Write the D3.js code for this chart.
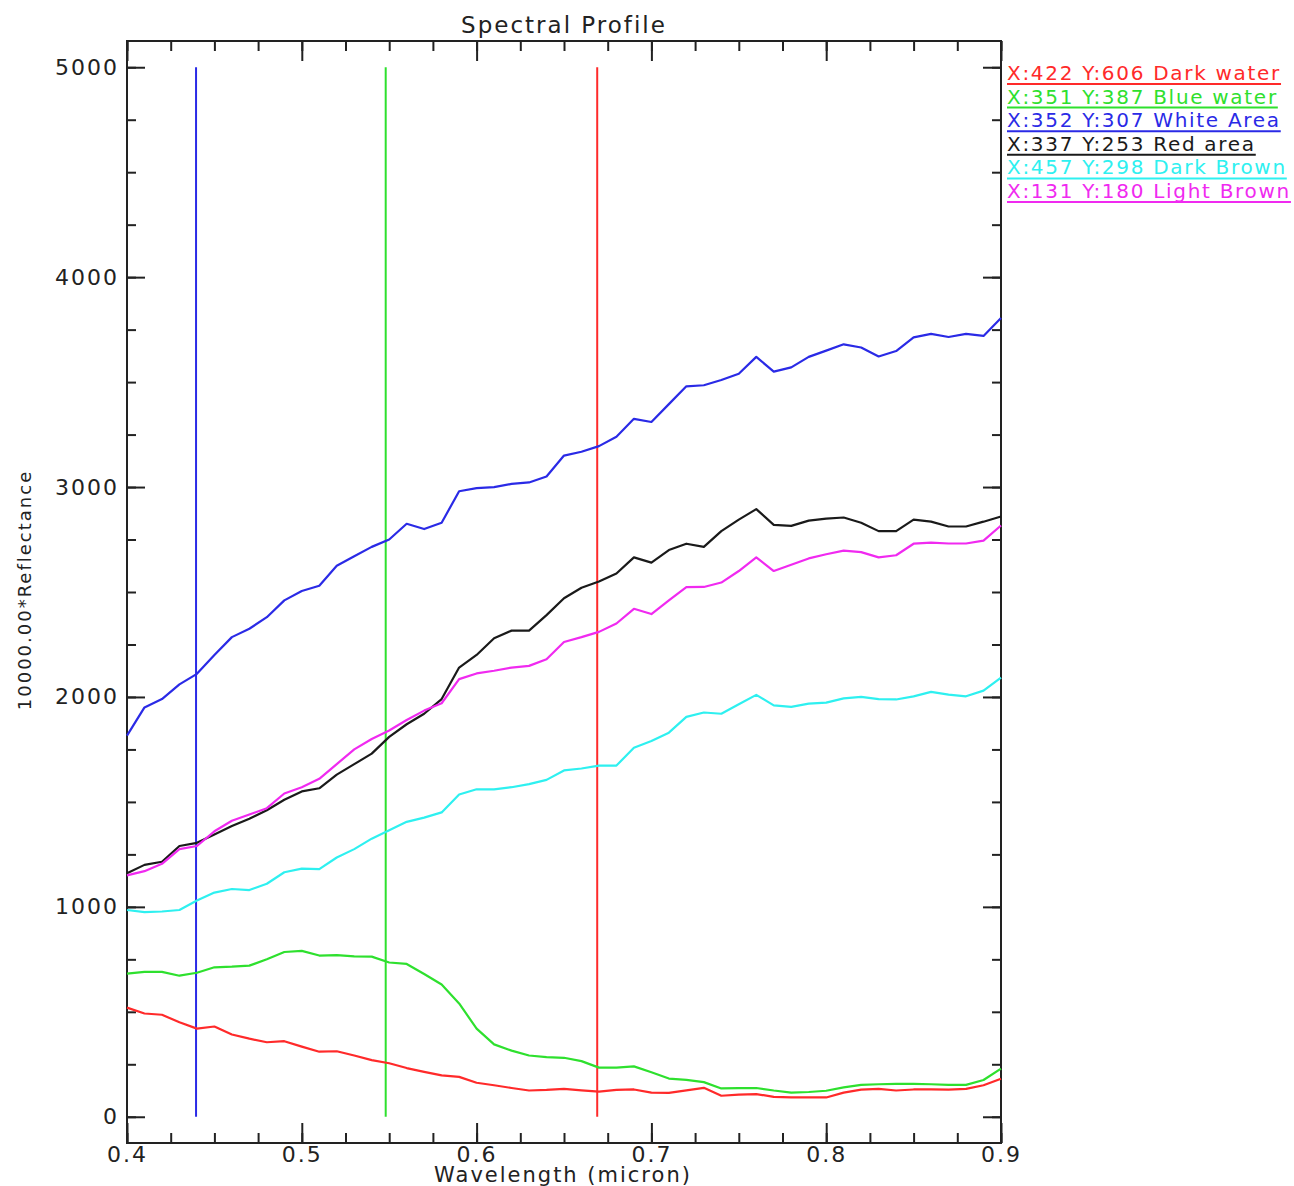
<!DOCTYPE html>
<html>
<head>
<meta charset="utf-8">
<script src="https://cdn.jsdelivr.net/npm/d3@7"></script>
<style>
	body { margin: 0; background: #fff; }
	svg { display: block; }
	text { font-family: "DejaVu Sans", sans-serif; fill: #222; }
</style>
</head>
<body>
<svg id="chart" width="1294" height="1186"></svg>
<script>
// wavelength grid (micron), one reading per 0.01
var wavelengths = d3.range(0, 51).map(function(k) { return +(0.4 + k * 0.01).toFixed(2); });

var darkWater = [520, 492, 486, 450, 420, 430, 392, 372, 355, 360,
	334, 310, 312, 292, 270, 255, 232, 214, 197, 190,
	162, 150, 137, 125, 128, 133, 126, 120, 128, 130,
	115, 114, 126, 138, 100, 105, 108, 95, 92, 92,
	92, 115, 129, 133, 125, 130, 130, 129, 133, 150, 181];

var blueWater = [682, 690, 690, 672, 686, 712, 715, 720, 750, 785,
	790, 768, 770, 764, 763, 735, 728, 680, 630, 540,
	420, 345, 315, 292, 284, 281, 265, 234, 234, 240,
	212, 182, 176, 165, 135, 136, 137, 125, 115, 118,
	124, 140, 152, 155, 157, 157, 155, 152, 152, 175, 229];

var whiteArea = [1816, 1950, 1990, 2060, 2110, 2200, 2285, 2325, 2380, 2460,
	2505, 2530, 2625, 2670, 2715, 2750, 2825, 2800, 2830, 2980,
	2995, 3000, 3015, 3022, 3050, 3150, 3168, 3195, 3240, 3325,
	3310, 3395, 3480, 3485, 3510, 3540, 3620, 3550, 3570, 3620,
	3650, 3680, 3665, 3622, 3648, 3713, 3730, 3715, 3730, 3720, 3805];

var redArea = [1160, 1200, 1215, 1290, 1305, 1345, 1385, 1420, 1460, 1510,
	1550, 1565, 1630, 1680, 1730, 1810, 1870, 1920, 1990, 2140,
	2200, 2280, 2316, 2316, 2390, 2470, 2520, 2550, 2588, 2665,
	2640, 2700, 2730, 2715, 2790, 2845, 2895, 2820, 2815, 2840,
	2850, 2855, 2830, 2790, 2790, 2845, 2835, 2812, 2812, 2835, 2860];

var darkBrown = [985, 975, 978, 985, 1030, 1068, 1085, 1080, 1110, 1165,
	1182, 1180, 1235, 1275, 1325, 1365, 1405, 1425, 1450, 1535,
	1560, 1560, 1570, 1585, 1605, 1650, 1659, 1673, 1673, 1758,
	1790, 1830, 1905, 1926, 1920, 1965, 2010, 1960, 1953, 1968,
	1973, 1993, 2000, 1990, 1988, 2003, 2024, 2011, 2003, 2030, 2092];

var lightBrown = [1150, 1170, 1205, 1275, 1290, 1360, 1410, 1440, 1470, 1540,
	1570, 1610, 1680, 1750, 1800, 1840, 1890, 1935, 1970, 2085,
	2112, 2125, 2140, 2148, 2180, 2262, 2285, 2310, 2350, 2420,
	2395, 2460, 2523, 2524, 2545, 2600, 2665, 2600, 2630, 2660,
	2680, 2697, 2690, 2665, 2675, 2730, 2735, 2731, 2731, 2745, 2817];

var seriesLabels = ["X:422 Y:606 Dark water", "X:351 Y:387 Blue water", "X:352 Y:307 White Area",
	"X:337 Y:253 Red area", "X:457 Y:298 Dark Brown", "X:131 Y:180 Light Brown"];
var seriesColors = ["#ff2a2a", "#2ee02e", "#2a2ae6", "#1a1a1a", "#2ef0f0", "#f02af0"];
var seriesValues = [darkWater, blueWater, whiteArea, redArea, darkBrown, lightBrown];

// band markers
var markerWavelengths = [0.4395, 0.548, 0.669];
var markerColors = ["#2a2ae6", "#2ee02e", "#ff2a2a"];

var xTicks = [0.4, 0.5, 0.6, 0.7, 0.8, 0.9];
var yTicks = [0, 1000, 2000, 3000, 4000, 5000];

var svg = d3.select("#chart");

var x = d3.scaleLinear().domain([0.4, 0.9]).range([127, 1001]);
var y = d3.scaleLinear().domain([-125, 5125]).range([1143, 41]);

drawAxes();
drawMarkers();
drawLines();
drawLegend();

function styleAxis(g) {
	g.select(".domain").remove();
	g.selectAll(".tick line").attr("stroke", "#222").attr("stroke-width", 2);
	g.selectAll(".tick text").style("font-size", "22px").attr("fill", "#222").style("letter-spacing", "2px");
}

function drawAxes() {
	var xMinor = d3.range(0, 21).map(function(k) { return 0.4 + k * 0.025; });
	var yMinor = d3.range(0, 21).map(function(k) { return k * 250; });

	// bottom
	svg.append("g").attr("transform", "translate(0,1143)")
		.call(d3.axisBottom(x).tickValues(xMinor).tickSize(-10).tickFormat(""))
		.call(styleAxis);
	svg.append("g").attr("transform", "translate(0,1143)")
		.call(d3.axisBottom(x).tickValues(xTicks).tickSize(-20).tickPadding(3).tickFormat(d3.format(".1f")))
		.call(styleAxis);
	// top
	svg.append("g").attr("transform", "translate(0,41)")
		.call(d3.axisTop(x).tickValues(xMinor).tickSize(-10).tickFormat(""))
		.call(styleAxis);
	svg.append("g").attr("transform", "translate(0,41)")
		.call(d3.axisTop(x).tickValues(xTicks).tickSize(-20).tickFormat(""))
		.call(styleAxis);
	// left
	svg.append("g").attr("transform", "translate(127,0)")
		.call(d3.axisLeft(y).tickValues(yMinor).tickSize(-9).tickFormat(""))
		.call(styleAxis);
	svg.append("g").attr("transform", "translate(127,0)")
		.call(d3.axisLeft(y).tickValues(yTicks).tickSize(-18).tickPadding(8).tickFormat(d3.format("d")))
		.call(styleAxis);
	// right
	svg.append("g").attr("transform", "translate(1001,0)")
		.call(d3.axisRight(y).tickValues(yMinor).tickSize(-9).tickFormat(""))
		.call(styleAxis);
	svg.append("g").attr("transform", "translate(1001,0)")
		.call(d3.axisRight(y).tickValues(yTicks).tickSize(-18).tickFormat(""))
		.call(styleAxis);

	svg.append("rect")
		.attr("x", x(0.4)).attr("y", y(5125))
		.attr("width", x(0.9) - x(0.4)).attr("height", y(-125) - y(5125))
		.attr("fill", "none").attr("stroke", "#222").attr("stroke-width", 2);

	svg.append("text").attr("x", 564).attr("y", 33).attr("text-anchor", "middle")
		.style("font-size", "23px").style("letter-spacing", "2px").text("Spectral Profile");
	svg.append("text").attr("x", 563).attr("y", 1182).attr("text-anchor", "middle")
		.style("font-size", "21px").style("letter-spacing", "2px").text("Wavelength (micron)");
	svg.append("text").attr("transform", "translate(31,590) rotate(-90)").attr("text-anchor", "middle")
		.style("font-size", "18px").style("letter-spacing", "2px").text("10000.00*Reflectance");
}

function drawMarkers() {
	svg.selectAll(".marker")
		.data(markerWavelengths)
		.enter()
		.append("line")
		.attr("class", "marker")
		.attr("x1", function(d) { return x(d); })
		.attr("x2", function(d) { return x(d); })
		.attr("y1", y(0))
		.attr("y2", y(5000))
		.attr("stroke", function(d, i) { return markerColors[i]; })
		.attr("stroke-width", 2);
}

function drawLines() {
	var line = d3.line()
		.x(function(d, i) { return x(wavelengths[i]); })
		.y(function(d) { return y(d); });

	seriesValues.forEach(function(vals, i) {
		svg.append("path")
			.datum(vals)
			.attr("d", line)
			.attr("fill", "none")
			.attr("stroke", seriesColors[i])
			.attr("stroke-width", 2.2)
			.attr("stroke-linejoin", "round");
	});
}

function drawLegend() {
	seriesLabels.forEach(function(label, i) {
		var baseline = 80 + i * 23.6;
		var t = svg.append("text")
			.attr("x", 1007)
			.attr("y", baseline)
			.style("font-size", "20px")
			.style("letter-spacing", "1.7px")
			.style("fill", seriesColors[i])
			.text(label);
		var w = t.node().getComputedTextLength();
		svg.append("line")
			.attr("x1", 1007).attr("x2", 1007 + w)
			.attr("y1", baseline + 4).attr("y2", baseline + 4)
			.attr("stroke", seriesColors[i])
			.attr("stroke-width", 2);
	});
}
</script>
</body>
</html>
